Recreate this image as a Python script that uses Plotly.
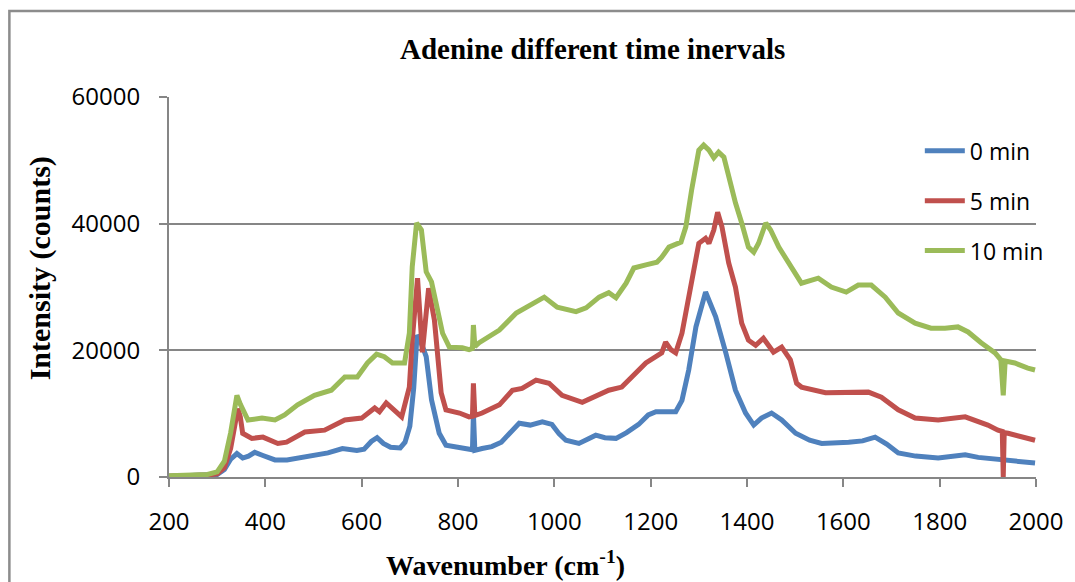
import plotly.graph_objects as go

# ---- data ----
wn_0 = [200, 230, 260, 280, 300, 315, 328, 341, 353, 365, 378, 395, 420, 445, 470, 500, 530, 560, 590, 605,
        620, 632, 645, 660, 680, 690, 700, 708, 715, 722, 734, 745, 761, 775, 800, 820, 830, 832, 835, 850,
        870, 890, 910, 927, 950, 975, 995, 1010, 1024, 1051, 1070, 1086, 1105, 1128, 1150, 1175, 1195, 1211,
        1252, 1265, 1279, 1294, 1314, 1335, 1356, 1376, 1397, 1414, 1430, 1451, 1472, 1486, 1501, 1530, 1555,
        1611, 1640, 1666, 1690, 1714, 1750, 1797, 1853, 1880, 1927, 1960, 1998]
int_0 = [100, 200, 150, 300, 400, 1200, 2800, 3700, 3000, 3300, 3900, 3400, 2700, 2700, 3000, 3300, 3800, 4500, 4200, 4400,
         5600, 6200, 5300, 4700, 4600, 5500, 8000, 14000, 22400, 21500, 19000, 12200, 6900, 5000, 4600, 4400, 4300, 10000, 4200, 4500,
         4800, 5500, 7000, 8500, 8200, 8700, 8300, 6800, 5800, 5300, 6000, 6600, 6200, 6100, 7000, 8300, 9800, 10300,
         10300, 12100, 16900, 23700, 29200, 25300, 19600, 13700, 10100, 8200, 9300, 10100, 9000, 7900, 6900, 5800, 5300,
         5500, 5700, 6300, 5200, 3800, 3300, 3000, 3500, 3100, 2700, 2600, 2200]

wn_5 = [200, 230, 260, 280, 300, 315, 328, 338, 343, 348, 353, 372, 395, 426, 444, 482, 523, 565, 600, 627,
        637, 651, 672, 683, 699, 705, 716, 726, 739, 751, 765, 775, 803, 823, 830, 832, 835, 850, 886, 913,
        933, 962, 989, 1016, 1058, 1093, 1113, 1140, 1169, 1190, 1223, 1231, 1242, 1252, 1265, 1285, 1300, 1314,
        1321, 1331, 1339, 1348, 1362, 1376, 1389, 1403, 1418, 1434, 1455, 1472, 1490, 1503, 1513, 1563, 1596,
        1652, 1679, 1714, 1749, 1797, 1853, 1900, 1921, 1930, 1932, 1934, 1942, 1998]
int_5 = [100, 200, 150, 300, 500, 1500, 4500, 8500, 10800, 9500, 6900, 6100, 6300, 5300, 5500, 7100, 7400, 9000, 9300, 10900,
         10300, 11700, 10100, 9500, 14200, 21600, 31400, 19700, 29800, 24800, 13300, 10600, 10100, 9500, 9600, 14800, 9700, 10100, 11400, 13700,
         14000, 15300, 14800, 12900, 11800, 12900, 13700, 14200, 16400, 18000, 19600, 21300, 20100, 19600, 22700, 31100, 36900, 37700,
         36900, 39000, 41800, 39500, 33800, 30000, 24300, 21600, 20800, 21900, 19700, 20500, 18500, 14800, 14200, 13300, 13300,
         13400, 12600, 10600, 9300, 9000, 9500, 8200, 7400, 7200, 0, 7000, 6900, 5800]

wn_10 = [200, 230, 260, 280, 300, 315, 328, 336, 341, 348, 364, 393, 420, 440, 467, 502, 537, 565, 591, 612,
         631, 647, 664, 689, 699, 705, 714, 724, 734, 745, 755, 768, 782, 809, 823, 830, 832, 835, 844, 865,
         886, 921, 954, 979, 1006, 1045, 1066, 1093, 1113, 1128, 1149, 1165, 1190, 1213, 1223, 1238, 1263, 1273,
         1285, 1300, 1310, 1321, 1331, 1341, 1352, 1362, 1376, 1389, 1403, 1414, 1424, 1439, 1449, 1466, 1486,
         1503, 1513, 1548, 1575, 1606, 1631, 1658, 1687, 1714, 1749, 1782, 1811, 1838, 1859, 1886, 1915, 1927,
         1932, 1936, 1956, 1983, 1998]
int_10 = [200, 300, 250, 400, 800, 2500, 7000, 11500, 12900, 11500, 9000, 9300, 9000, 9800, 11400, 12900, 13700, 15800, 15800, 18000,
          19400, 19000, 18000, 18000, 22700, 33200, 40100, 39000, 32400, 30800, 27500, 22700, 20500, 20400, 20100, 20300, 24000, 20600, 21200, 22100,
          23200, 25900, 27200, 28400, 26800, 26100, 26700, 28400, 29100, 28300, 30600, 33000, 33500, 33900, 34700, 36300, 37100, 39500,
          45300, 51600, 52400, 51600, 50400, 51300, 50500, 47400, 43300, 40100, 36300, 35500, 36900, 40100, 39000, 36300, 33800,
          31600, 30600, 31400, 30000, 29200, 30300, 30300, 28400, 25900, 24300, 23500, 23500, 23700, 22900, 21200, 19600, 18500,
          12900, 18300, 18000, 17200, 16900]

series_names = ["0 min", "5 min", "10 min"]
series_colors = ["#4F81BD", "#C0504D", "#9BBB59"]
x_ticks = [200, 400, 600, 800, 1000, 1200, 1400, 1600, 1800, 2000]
y_ticks = [0, 20000, 40000, 60000]

GRID = "#868686"
TICK_FONT = dict(family="Open Sans", size=24, color="#000000")
SERIF = "Liberation Serif"

fig = go.Figure()
for wn, val, name, col in zip([wn_0, wn_5, wn_10], [int_0, int_5, int_10], series_names, series_colors):
    fig.add_trace(go.Scatter(x=wn, y=val, mode="lines", name=name, legendgroup=name,
                             line=dict(color=col, width=5)))

fig.update_layout(
    width=1075, height=582,
    margin=dict(l=169, r=37, t=97, b=105),
    paper_bgcolor="white", plot_bgcolor="white",
    showlegend=True,
    legend=dict(x=0.866, y=0.915, xanchor="left", yanchor="top",
                font=dict(family="Open Sans", size=23, color="#000000"),
                traceorder="grouped", tracegroupgap=17, bgcolor="rgba(0,0,0,0)",
                itemwidth=40),
    xaxis=dict(range=[200, 2000], tickvals=x_ticks, ticktext=[str(v) for v in x_ticks],
               showgrid=False, zeroline=False, showline=True, linecolor=GRID, linewidth=2,
               ticks="outside", ticklen=8, tickcolor=GRID, tickwidth=2,
               tickfont=TICK_FONT, ticklabelstandoff=14),
    yaxis=dict(range=[0, 60000], tickvals=y_ticks, ticktext=[str(v) for v in y_ticks],
               showgrid=True, gridcolor=GRID, gridwidth=2, zeroline=False,
               showline=True, linecolor=GRID, linewidth=2,
               ticks="outside", ticklen=8, tickcolor=GRID, tickwidth=2,
               tickfont=TICK_FONT, ticklabelstandoff=14),
    annotations=[
        dict(text="<b>Adenine different time inervals</b>", xref="paper", yref="paper",
             x=0.4879, y=1.126, xanchor="center", yanchor="middle", showarrow=False,
             font=dict(family=SERIF, size=29, color="#000000")),
        dict(text="<b>Wavenumber (cm<sup>-1</sup>)</b>", xref="paper", yref="paper",
             x=0.3878, y=-0.227, xanchor="center", yanchor="middle", showarrow=False,
             font=dict(family=SERIF, size=28, color="#000000")),
        dict(text="<b>Intensity (counts)</b>", xref="paper", yref="paper", textangle=-90,
             x=-0.1484, y=0.55, xanchor="center", yanchor="middle", showarrow=False,
             font=dict(family=SERIF, size=30, color="#000000")),
    ],
    shapes=[
        dict(type="rect", xref="paper", yref="paper", x0=-0.1841, x1=1.08, y0=-0.35, y1=1.2263,
             line=dict(color="#8C8C8C", width=2.5), fillcolor="rgba(0,0,0,0)", layer="below"),
    ],
)

fig.write_html("out.html")
